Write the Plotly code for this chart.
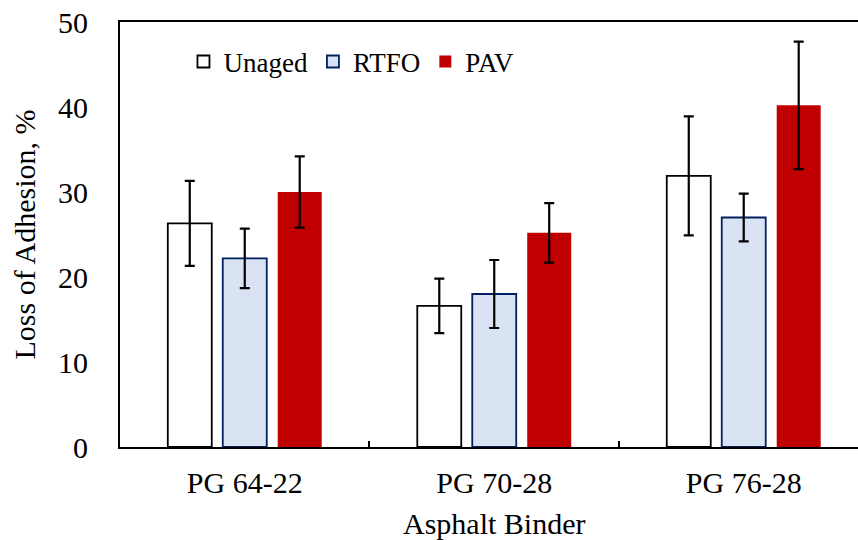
import plotly.graph_objects as go

categories = ["PG 64-22", "PG 70-28", "PG 76-28"]
series_names = ["Unaged", "RTFO", "PAV"]
unaged = [26.3, 16.6, 31.9]
unaged_err = [5.0, 3.2, 7.0]
rtfo = [22.2, 18.0, 27.0]
rtfo_err = [3.5, 4.0, 2.8]
pav = [30.0, 25.2, 40.2]
pav_err = [4.2, 3.5, 7.5]
y_ticks = [0, 10, 20, 30, 40, 50]

FONT = "Liberation Serif, Times New Roman, serif"

fills = ["#FFFFFF", "#DAE3F3", "#C00000"]
outlines = ["#000000", "#002060", "#C00000"]
values = [unaged, rtfo, pav]
errors = [unaged_err, rtfo_err, pav_err]

fig = go.Figure()
for name, vals, errs, fc, lc in zip(series_names, values, errors, fills, outlines):
    fig.add_trace(go.Bar(
        name=name, x=categories, y=vals,
        marker=dict(color=fc, line=dict(color=lc, width=1.8 if name != "PAV" else 0)),
        error_y=dict(type="data", array=errs, visible=True, color="#000000",
                     thickness=2.2, width=5),
    ))

fig.update_layout(
    width=858, height=540,
    margin=dict(l=120, r=0, t=22, b=93, pad=0),
    paper_bgcolor="white", plot_bgcolor="white",
    barmode="group", bargap=0.339, bargroupgap=0.2,
    font=dict(family=FONT, size=30, color="#000000"),
    showlegend=True,
    legend=dict(orientation="h", x=0.086, y=0.906, xanchor="left", yanchor="middle",
                font=dict(family=FONT, size=27, color="#000000"),
                bgcolor="rgba(0,0,0,0)", itemwidth=30, tracegroupgap=0),
    xaxis=dict(range=[-0.5, 2.458], showline=True, linecolor="#000000", linewidth=2,
               mirror=True, ticks="inside", ticklen=6, tickwidth=1.5, tickcolor="#000000",
               tickson="boundaries", showgrid=False, zeroline=False,
               tickfont=dict(family=FONT, size=30), ticklabelstandoff=8),
    yaxis=dict(range=[0, 50], tickvals=y_ticks, showline=True, linecolor="#000000",
               linewidth=2, showgrid=False, zeroline=False, ticks="",
               tickfont=dict(family=FONT, size=30), ticklabelstandoff=24,
               title=dict(text="Loss of Adhesion, %", font=dict(family=FONT, size=30),
                          standoff=14)),
)

fig.add_annotation(text="Asphalt Binder", x=1, xref="x", y=-0.18, yref="paper",
                   xanchor="center", yanchor="middle", showarrow=False,
                   font=dict(family=FONT, size=30, color="#000000"))

fig.write_html("out.html")
